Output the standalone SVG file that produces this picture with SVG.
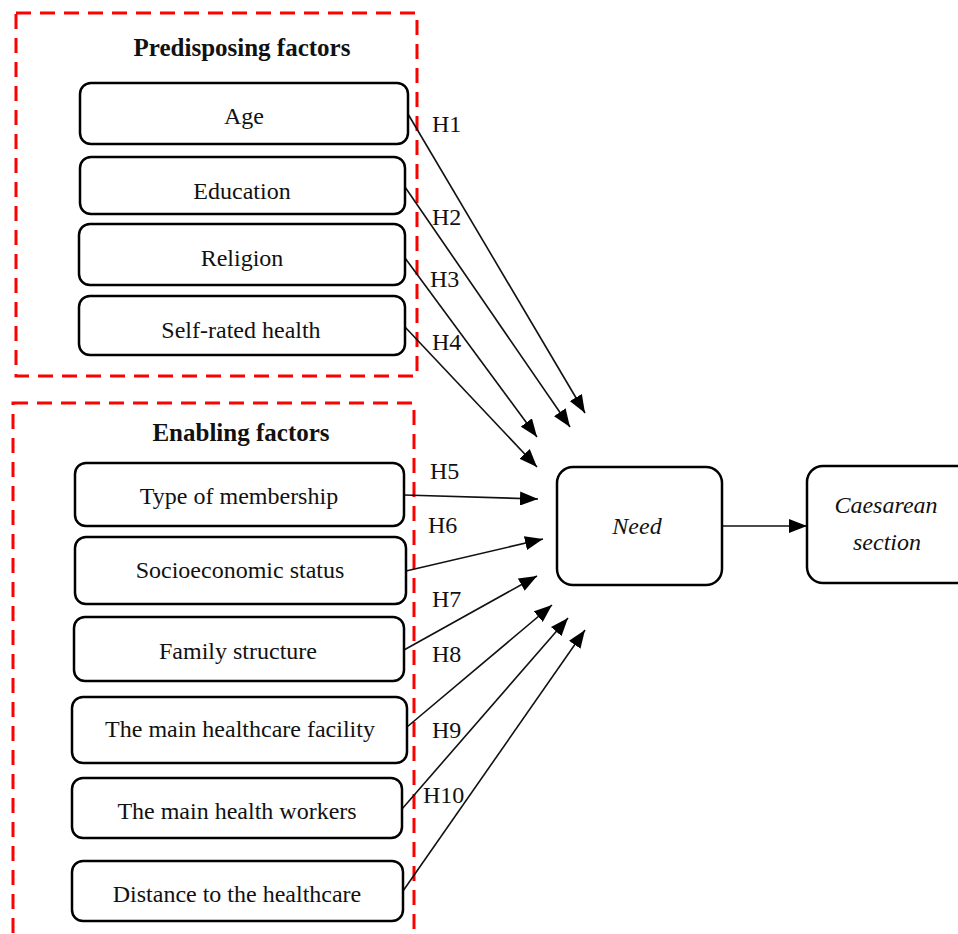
<svg xmlns="http://www.w3.org/2000/svg" width="958" height="934" viewBox="0 0 958 934">
<style>
.grp{fill:none;stroke:#ff0000;stroke-width:3;stroke-dasharray:15 9}
.box{fill:#fff;stroke:#000;stroke-width:2.5}
.t{font-family:"Liberation Serif","Times New Roman",serif;font-size:24px;fill:#111;text-anchor:middle}
.ti{font-family:"Liberation Serif","Times New Roman",serif;font-size:24px;font-style:italic;fill:#111;text-anchor:middle}
.tb{font-family:"Liberation Serif","Times New Roman",serif;font-size:25px;font-weight:bold;fill:#111;text-anchor:middle}
.lb{font-family:"Liberation Serif","Times New Roman",serif;font-size:24px;fill:#111}
.c{stroke:#111;stroke-width:1.6;fill:none;marker-end:url(#ah)}
</style>
<defs>
<marker id="ah" markerUnits="userSpaceOnUse" markerWidth="18" markerHeight="14" refX="18" refY="7" orient="auto">
<path d="M0,0 L18,7 L0,14 z" fill="#000"/>
</marker>
</defs>
<rect width="958" height="934" fill="#fff"/>
<g id="predisposing-group">
<rect class="grp" x="16" y="13" width="401" height="363"/>
<text class="tb" x="242" y="56">Predisposing factors</text>
</g>
<g id="enabling-group">
<rect class="grp" x="13" y="403" width="401" height="560"/>
<text class="tb" x="241" y="441">Enabling factors</text>
</g>
<g id="connectors">
<line class="c" x1="408" y1="114" x2="585" y2="413"/>
<line class="c" x1="405" y1="187" x2="570" y2="427"/>
<line class="c" x1="405" y1="258" x2="537" y2="437"/>
<line class="c" x1="405" y1="327" x2="537" y2="467"/>
<line class="c" x1="404" y1="495" x2="538" y2="499"/>
<line class="c" x1="406" y1="571" x2="543" y2="539"/>
<line class="c" x1="404" y1="650" x2="537" y2="576"/>
<line class="c" x1="407" y1="727" x2="552" y2="605"/>
<line class="c" x1="402" y1="809" x2="568" y2="618"/>
<line class="c" x1="403" y1="891" x2="585" y2="630"/>
<line class="c" x1="722" y1="526" x2="807" y2="526"/>
<text class="lb" x="432" y="132">H1</text>
<text class="lb" x="432" y="225">H2</text>
<text class="lb" x="430" y="287">H3</text>
<text class="lb" x="432" y="350">H4</text>
<text class="lb" x="430" y="479">H5</text>
<text class="lb" x="428" y="533">H6</text>
<text class="lb" x="432" y="607">H7</text>
<text class="lb" x="432" y="662">H8</text>
<text class="lb" x="432" y="738">H9</text>
<text class="lb" x="423" y="803">H10</text>
</g>
<g id="age"><rect class="box" x="80" y="83" width="328" height="61" rx="11"/><text class="t" x="244" y="124">Age</text></g>
<g id="education"><rect class="box" x="80" y="157" width="325" height="57" rx="11"/><text class="t" x="242" y="199">Education</text></g>
<g id="religion"><rect class="box" x="79" y="224" width="326" height="61" rx="11"/><text class="t" x="242" y="266">Religion</text></g>
<g id="self-rated-health"><rect class="box" x="79" y="296" width="326" height="59" rx="11"/><text class="t" x="241" y="338">Self-rated health</text></g>
<g id="type-of-membership"><rect class="box" x="75" y="463" width="329" height="63" rx="11"/><text class="t" x="239" y="504">Type of membership</text></g>
<g id="socioeconomic-status"><rect class="box" x="75" y="537" width="331" height="67" rx="11"/><text class="t" x="240" y="578">Socioeconomic status</text></g>
<g id="family-structure"><rect class="box" x="74" y="617" width="330" height="64" rx="11"/><text class="t" x="238" y="659">Family structure</text></g>
<g id="main-healthcare-facility"><rect class="box" x="72" y="697" width="335" height="66" rx="11"/><text class="t" x="240" y="737">The main healthcare facility</text></g>
<g id="main-health-workers"><rect class="box" x="72" y="778" width="330" height="60" rx="11"/><text class="t" x="237" y="819">The main health workers</text></g>
<g id="distance"><rect class="box" x="72" y="861" width="331" height="60" rx="11"/><text class="t" x="237" y="902">Distance to the healthcare</text></g>
<g id="need"><rect class="box" x="557" y="467" width="165" height="118" rx="16"/><text class="ti" x="637" y="534">Need</text></g>
<g id="caesarean-section"><rect class="box" x="807" y="466" width="170" height="117" rx="16"/><text class="ti" x="886" y="513">Caesarean</text><text class="ti" x="887" y="550">section</text></g>
</svg>
